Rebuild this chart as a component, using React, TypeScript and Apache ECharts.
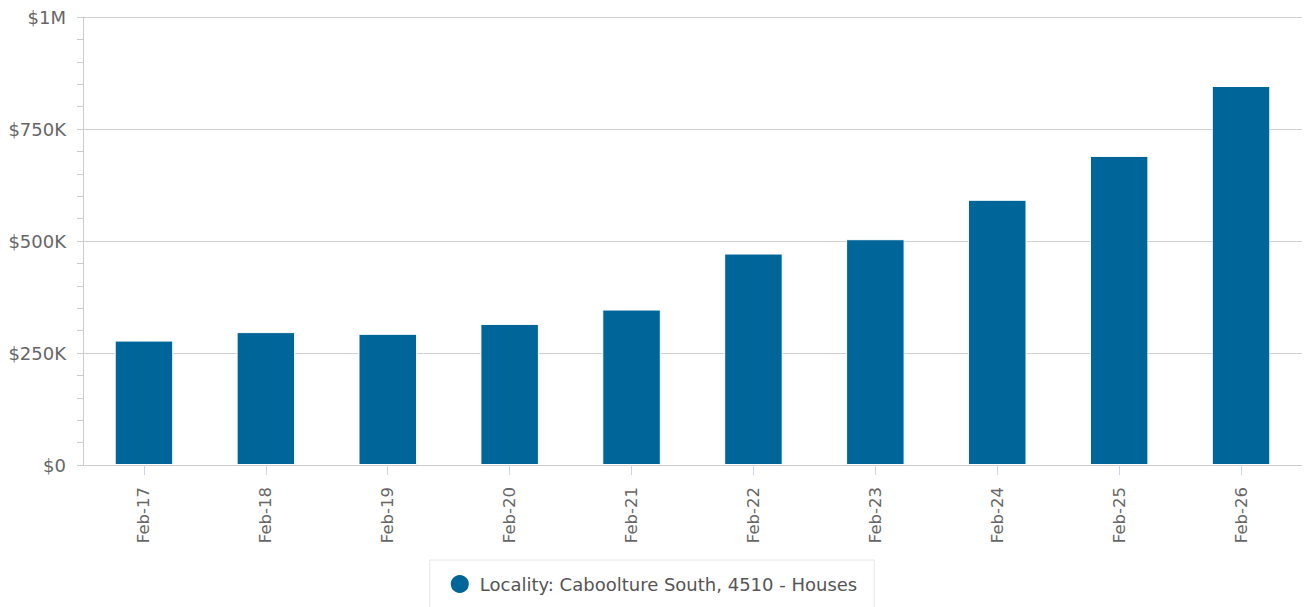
import React, { useEffect, useRef } from "react";
import * as echarts from "echarts";

const categories = ["Feb-17", "Feb-18", "Feb-19", "Feb-20", "Feb-21", "Feb-22", "Feb-23", "Feb-24", "Feb-25", "Feb-26"];
const values = [277700, 296600, 292800, 315000, 347000, 472000, 504000, 592000, 690000, 846000];
const seriesName = "Locality: Caboolture South, 4510 - Houses";
const yTicks = { min: 0, max: 1000000, interval: 250000 };

function fmt(v: number): string {
  if (v === 0) return "$0";
  if (v >= 1000000) return "$" + v / 1000000 + "M";
  return "$" + v / 1000 + "K";
}

export default function App() {
  const ref = useRef<HTMLDivElement>(null);
  useEffect(() => {
    if (!ref.current) return;
    const chart = echarts.init(ref.current, null, { renderer: "svg" });
    const font = "DejaVu Sans";
    chart.setOption({
      animation: false,
      grid: { left: 83, right: 4, top: 17, bottom: 142, containLabel: false },
      legend: {
        data: [seriesName],
        left: "center",
        top: 560,
        icon: "circle",
        itemWidth: 20,
        itemHeight: 20,
        padding: [13, 17, 16, 19],
        borderColor: "#e6e6e6",
        borderWidth: 1,
        backgroundColor: "#fff",
        textStyle: { fontFamily: font, fontSize: 18, color: "#555", padding: [0, 0, 0, 5] },
      },
      xAxis: {
        type: "category",
        data: categories,
        axisLine: { show: true, lineStyle: { color: "#ccc" } },
        axisTick: { show: true, length: 10, alignWithLabel: true, lineStyle: { color: "#ccd6eb" } },
        axisLabel: { rotate: 90, margin: 22, color: "#666", fontFamily: font, fontSize: 16.5 },
      },
      yAxis: {
        type: "value",
        min: yTicks.min,
        max: yTicks.max,
        interval: yTicks.interval,
        axisLine: { show: true, lineStyle: { color: "#ccc" } },
        axisTick: { show: true, length: 6, lineStyle: { color: "#ccc" } },
        minorTick: { show: true, splitNumber: 5, length: 6, lineStyle: { color: "#ccc" } },
        splitLine: { show: true, lineStyle: { color: "#d0d0d0" } },
        axisLabel: { margin: 17, color: "#666", fontFamily: font, fontSize: 18, formatter: fmt },
      },
      series: [
        {
          name: seriesName,
          type: "bar",
          data: values,
          barWidth: "48%",
          itemStyle: { color: "#006699", borderColor: "#ffffff", borderWidth: 1 },
        },
      ],
    });
    return () => chart.dispose();
  }, []);
  return <div ref={ref} style={{ position: "absolute", left: 0, top: 0, width: 1306, height: 607 }} />;
}
